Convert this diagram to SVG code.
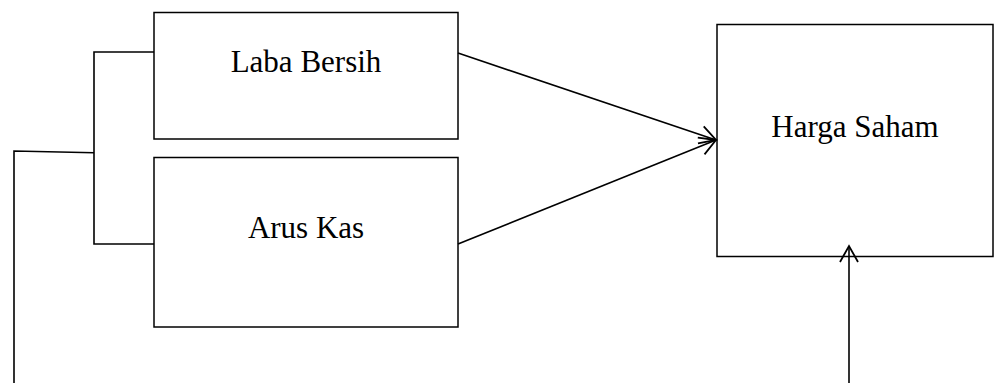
<svg xmlns="http://www.w3.org/2000/svg" width="996" height="383" viewBox="0 0 996 383">
<style>
.box{fill:#fff;stroke:#000;stroke-width:1.5}
.lbl{font-family:"Liberation Serif","Times New Roman",serif;font-size:31px;fill:#000;text-anchor:middle}
.con{fill:none;stroke:#000;stroke-width:1.6}
</style>
<defs>
<marker id="ah" markerUnits="userSpaceOnUse" markerWidth="40" markerHeight="40" viewBox="-20 -20 40 40" refX="0" refY="0" orient="auto" overflow="visible">
<path d="M -16 -9 L 0 0 L -16 9" fill="none" stroke="#000" stroke-width="1.8"/>
</marker>
</defs>
<rect width="996" height="383" fill="#fff"/>
<g id="laba-bersih">
<rect class="box" x="154" y="12.5" width="304" height="126.5"/>
<text class="lbl" x="306" y="72">Laba Bersih</text>
</g>
<g id="arus-kas">
<rect class="box" x="154" y="157.5" width="304" height="169.5"/>
<text class="lbl" x="306" y="238">Arus Kas</text>
</g>
<g id="harga-saham">
<rect class="box" x="717" y="24.5" width="276" height="232"/>
<text class="lbl" x="855" y="137">Harga Saham</text>
</g>
<g id="connectors">
<path class="con" d="M154 52 H94 V244 H154"/>
<path class="con" d="M94 152.7 L14 151 V383"/>
<line class="con" x1="458" y1="53" x2="716" y2="140" marker-end="url(#ah)"/>
<line class="con" x1="458" y1="244" x2="716" y2="140" marker-end="url(#ah)"/>
<line class="con" x1="849" y1="383" x2="849" y2="246" marker-end="url(#ah)"/>
</g>
</svg>
